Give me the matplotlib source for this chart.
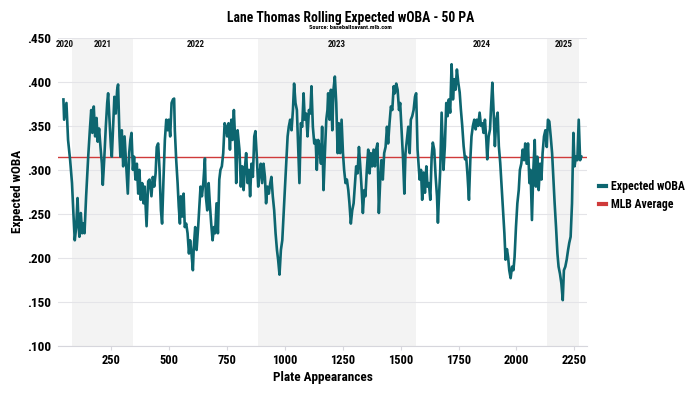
import matplotlib
matplotlib.use("Agg")
import matplotlib.pyplot as plt
from matplotlib import font_manager
from matplotlib.lines import Line2D
from matplotlib.ticker import FuncFormatter

# rolling 50 PA xwOBA (plate appearance, value)
pa = [
    44, 47, 57, 64, 73, 81, 87, 93, 99, 105, 110, 113, 119, 125, 130, 135, 142, 151, 158, 164,
    169, 175, 181, 187, 192, 198, 204, 210, 214, 220, 227, 233, 237, 243, 249, 253, 259, 264, 270, 276,
    280, 286, 290, 296, 302, 308, 313, 319, 322, 328, 333, 338, 344, 349, 355, 361, 367, 372, 378, 384,
    390, 395, 403, 410, 416, 424, 430, 436, 442, 447, 453, 459, 465, 470, 476, 482, 488, 494, 499, 505,
    511, 517, 522, 525, 531, 537, 542, 547, 551, 557, 563, 568, 574, 580, 586, 591, 597, 603, 607, 613,
    619, 625, 630, 636, 642, 648, 655, 659, 665, 671, 676, 682, 688, 694, 699, 705, 711, 717, 722, 728,
    734, 740, 746, 751, 757, 763, 769, 774, 780, 786, 790, 796, 804, 810, 816, 822, 827, 833, 839, 845,
    850, 856, 862, 868, 873, 879, 885, 891, 896, 902, 908, 914, 919, 925, 931, 937, 942, 948, 954, 960,
    966, 971, 977, 983, 989, 994, 1000, 1006, 1012, 1017, 1023, 1029, 1035, 1040, 1046, 1052, 1058, 1063, 1069, 1075,
    1081, 1086, 1092, 1098, 1104, 1110, 1115, 1121, 1127, 1133, 1138, 1144, 1150, 1156, 1161, 1167, 1173, 1179, 1184, 1187,
    1193, 1199, 1205, 1210, 1216, 1222, 1228, 1233, 1239, 1245, 1251, 1256, 1262, 1268, 1274, 1279, 1285, 1291, 1297, 1302,
    1308, 1314, 1320, 1325, 1331, 1337, 1343, 1348, 1354, 1360, 1366, 1371, 1377, 1383, 1389, 1394, 1400, 1406, 1412, 1417,
    1423, 1429, 1435, 1441, 1446, 1452, 1458, 1464, 1470, 1475, 1481, 1487, 1493, 1498, 1504, 1510, 1516, 1521, 1527, 1533,
    1539, 1544, 1550, 1556, 1562, 1567, 1573, 1579, 1582, 1588, 1593, 1599, 1605, 1611, 1616, 1622, 1628, 1634, 1639, 1645,
    1651, 1657, 1661, 1665, 1671, 1677, 1681, 1685, 1691, 1697, 1703, 1708, 1714, 1720, 1726, 1732, 1737, 1743, 1749, 1755,
    1760, 1766, 1772, 1778, 1783, 1789, 1795, 1801, 1806, 1812, 1818, 1824, 1829, 1835, 1841, 1847, 1852, 1858, 1864, 1870,
    1874, 1880, 1886, 1890, 1896, 1901, 1907, 1913, 1919, 1924, 1930, 1936, 1942, 1948, 1953, 1959, 1964, 1969, 1975, 1981,
    1987, 1992, 1998, 2004, 2010, 2015, 2021, 2027, 2033, 2038, 2044, 2050, 2056, 2061, 2067, 2073, 2079, 2084, 2090, 2096,
    2102, 2108, 2113, 2119, 2125, 2131, 2136, 2142, 2148, 2154, 2159, 2165, 2171, 2177, 2182, 2188, 2194, 2200, 2205, 2211,
    2217, 2223, 2228, 2234, 2240, 2246, 2251, 2257, 2263, 2269, 2275, 2280,
]
xwoba = [
    .380, .357, .376, .334, .311, .285, .251, .220, .235, .268, .235, .224, .251, .228, .239, .228, .270, .315, .345, .368,
    .342, .372, .338, .359, .332, .347, .326, .307, .283, .311, .349, .376, .387, .357, .326, .315, .353, .383, .364, .391,
    .397, .338, .315, .345, .304, .338, .315, .289, .273, .319, .334, .342, .300, .315, .289, .307, .273, .300, .266, .285,
    .262, .281, .236, .287, .289, .270, .292, .281, .296, .326, .330, .300, .254, .239, .289, .334, .357, .345, .357, .338,
    .376, .380, .381, .345, .311, .285, .258, .239, .270, .247, .273, .235, .239, .228, .205, .220, .205, .186, .213, .235,
    .209, .232, .254, .281, .270, .285, .313, .270, .254, .285, .262, .239, .220, .235, .228, .262, .228, .289, .300, .304,
    .319, .353, .349, .338, .353, .323, .357, .334, .368, .330, .285, .345, .323, .281, .304, .277, .300, .319, .285, .300,
    .270, .307, .292, .338, .344, .315, .281, .296, .307, .285, .307, .292, .262, .281, .273, .285, .292, .270, .254, .228,
    .209, .198, .181, .209, .220, .247, .277, .307, .338, .349, .357, .345, .368, .398, .376, .368, .323, .285, .353, .349,
    .387, .357, .364, .338, .368, .364, .395, .349, .330, .334, .300, .334, .326, .307, .349, .277, .319, .357, .368, .387,
    .357, .391, .345, .391, .406, .376, .319, .353, .319, .357, .319, .300, .285, .289, .277, .262, .239, .254, .262, .281,
    .304, .296, .326, .307, .281, .251, .277, .270, .300, .323, .296, .319, .304, .323, .304, .323, .330, .251, .289, .311,
    .289, .319, .326, .349, .330, .353, .372, .368, .395, .387, .398, .391, .368, .376, .345, .315, .273, .319, .334, .349,
    .319, .357, .361, .368, .383, .387, .323, .300, .289, .300, .266, .297, .274, .304, .281, .285, .266, .315, .331, .323,
    .293, .270, .240, .266, .300, .365, .331, .300, .327, .376, .361, .380, .365, .420, .380, .403, .391, .414, .399, .388,
    .369, .350, .327, .312, .315, .293, .266, .312, .338, .350, .357, .346, .357, .350, .365, .350, .353, .342, .357, .334,
    .312, .338, .346, .369, .399, .369, .327, .357, .365, .327, .308, .281, .255, .228, .198, .210, .201, .186, .177, .190,
    .186, .201, .235, .262, .277, .300, .307, .323, .311, .330, .307, .330, .285, .300, .243, .300, .334, .281, .315, .277,
    .307, .289, .319, .338, .345, .326, .357, .355, .338, .319, .292, .262, .235, .205, .190, .182, .171, .152, .186, .190,
    .198, .209, .217, .224, .262, .342, .304, .315, .311, .357, .311, .315,
]
mlb_avg = 0.315

season_years = ["2020", "2021", "2022", "2023", "2024", "2025"]
season_edges = [21, 81, 345, 885, 1567, 2133, 2272]

available = {f.name for f in font_manager.fontManager.ttflist}
font = next(f for f in ["Roboto Condensed", "Liberation Sans Narrow", "Roboto", "DejaVu Sans"]
            if f in available)
plt.rcParams["font.family"] = font
plt.rcParams["font.weight"] = "bold"

teal = "#0d6670"
red = "#cf3a3a"

fig = plt.figure(figsize=(7, 3.94), dpi=100)
ax = fig.add_axes([0.083, 0.122, 0.756, 0.782])

for i, year in enumerate(season_years):
    lo, hi = season_edges[i], season_edges[i + 1]
    if i % 2 == 1:
        ax.axvspan(lo, hi, color="#f3f3f3", lw=0, zorder=0)
    ax.text((lo + hi) / 2, 0.4425, year, ha="center", va="center",
            fontsize=6.5, fontweight="bold", color="#111111")

ax.axhline(mlb_avg, color=red, lw=1.0, zorder=2)
ax.plot(pa, xwoba, color=teal, lw=1.9, zorder=3, solid_joinstyle="round")

ax.set_xlim(21, 2306)
ax.set_ylim(0.1, 0.45)
ax.set_xticks(range(250, 2251, 250))
ax.set_yticks([0.1 + 0.05 * i for i in range(8)])
ax.yaxis.set_major_formatter(FuncFormatter(lambda v, _: f"{v:.3f}".lstrip("0")))

ax.set_axisbelow(True)
ax.yaxis.grid(True, color="#e4e4e8", lw=0.8)
for side in ["top", "right", "left"]:
    ax.spines[side].set_visible(False)
ax.spines["bottom"].set_color("#d6d6dc")
ax.tick_params(axis="x", length=3, color="#d6d6dc", labelsize=9, pad=3)
ax.tick_params(axis="y", length=0, labelsize=9.5, pad=5)
for lbl in ax.get_xticklabels() + ax.get_yticklabels():
    lbl.set_fontweight("bold")

ax.set_xlabel("Plate Appearances", fontsize=9.5, fontweight="bold", labelpad=3)
ax.set_ylabel("Expected wOBA", fontsize=9.5, fontweight="bold", labelpad=2)

fig.text(0.501, 0.954, "Lane Thomas Rolling Expected wOBA - 50 PA",
         ha="center", va="center", fontsize=9.8, fontweight="bold")
fig.text(0.501, 0.929, "Source: baseballsavant.mlb.com",
         ha="center", va="center", fontsize=4.5, fontweight="bold")

handles = [Line2D([], [], color=teal, lw=3), Line2D([], [], color=red, lw=3)]
fig.legend(handles, ["Expected wOBA", "MLB Average"], loc="center left",
           bbox_to_anchor=(0.84, 0.503), frameon=False, handlelength=0.6,
           handletextpad=0.45, labelspacing=0.45, prop={"size": 8.5, "weight": "bold"})

fig.savefig("out.png", dpi=100)
